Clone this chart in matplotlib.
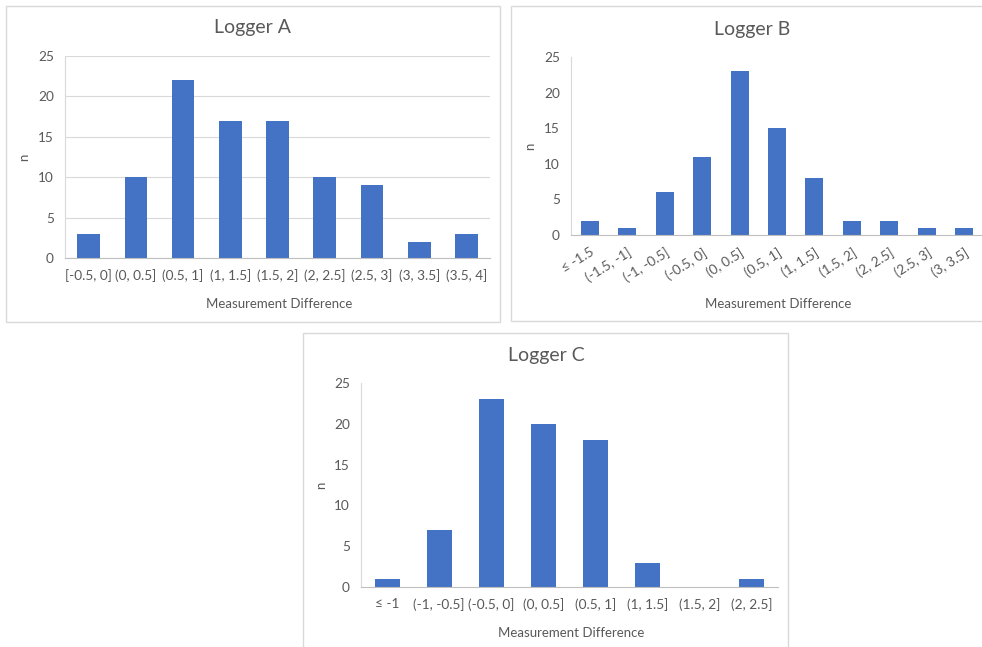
import matplotlib
matplotlib.use("Agg")
import matplotlib.pyplot as plt
from matplotlib.patches import Rectangle

plt.rcParams['font.family'] = ['Lato', 'DejaVu Sans']

# ---- data ----
cats_a = ["[-0.5, 0]", "(0, 0.5]", "(0.5, 1]", "(1, 1.5]", "(1.5, 2]",
          "(2, 2.5]", "(2.5, 3]", "(3, 3.5]", "(3.5, 4]"]
vals_a = [3, 10, 22, 17, 17, 10, 9, 2, 3]

cats_b = ["≤ -1.5", "(-1.5, -1]", "(-1, -0.5]", "(-0.5, 0]", "(0, 0.5]",
          "(0.5, 1]", "(1, 1.5]", "(1.5, 2]", "(2, 2.5]", "(2.5, 3]", "(3, 3.5]"]
vals_b = [2, 1, 6, 11, 23, 15, 8, 2, 2, 1, 1]

cats_c = ["≤ -1", "(-1, -0.5]", "(-0.5, 0]", "(0, 0.5]", "(0.5, 1]",
          "(1, 1.5]", "(1.5, 2]", "(2, 2.5]"]
vals_c = [1, 7, 23, 20, 18, 3, 0, 1]

titles = ["Logger A", "Logger B", "Logger C"]
yticks = [0, 5, 10, 15, 20, 25]

W, H = 982, 647
BAR = "#4472C4"
TXT = "#595959"
fig = plt.figure(figsize=(W / 100, H / 100), dpi=100)


def px_axes(l, t, r, b):
    return fig.add_axes([l / W, 1 - b / H, (r - l) / W, (b - t) / H])


def box(l, t, r, b):
    fig.patches.append(Rectangle((l / W, 1 - b / H), (r - l) / W, (b - t) / H,
                                 transform=fig.transFigure, fill=False,
                                 edgecolor="#D9D9D9", linewidth=1.0))


def panel(ax, cats, vals, grid, rot):
    x = list(range(len(cats)))
    ax.bar(x, vals, width=0.48, color=BAR, zorder=3)
    ax.set_xlim(-0.5, len(cats) - 0.5)
    ax.set_ylim(0, 25)
    ax.set_yticks(yticks)
    ax.set_xticks(x)
    if rot:
        ax.set_xticklabels(cats, rotation=32, ha='right', rotation_mode='anchor')
    else:
        ax.set_xticklabels(cats)
    ax.tick_params(axis='both', length=0, labelsize=9.8, colors=TXT)
    ax.tick_params(axis='y', pad=8)
    ax.tick_params(axis='x', pad=8 if not rot else 8)
    for s in ['top', 'right']:
        ax.spines[s].set_visible(False)
    ax.spines['bottom'].set_color("#BFBFBF")
    ax.spines['left'].set_color("#D9D9D9")
    ax.spines['bottom'].set_zorder(4)
    if grid:
        ax.yaxis.grid(True, color="#D9D9D9", linewidth=0.8, zorder=0)
    ax.set_axisbelow(True)


# boxes
box(6, 6, 500, 322)
box(511, 6, 990, 321)
box(303, 333, 788, 655)

axA = px_axes(65, 56, 490, 258)
panel(axA, cats_a, vals_a, True, False)
axB = px_axes(571, 57, 983, 235)
panel(axB, cats_b, vals_b, False, True)
axC = px_axes(361, 383, 778, 587)
panel(axC, cats_c, vals_c, False, False)

# titles
for (x, y), t in zip([(252, 28), (752, 29), (546, 355)], titles):
    fig.text(x / W, 1 - y / H, t, ha='center', va='center', fontsize=14, color=TXT)

# y labels
for x, y in [(24, 157), (530, 146), (321, 485)]:
    fig.text(x / W, 1 - y / H, "n", ha='center', va='center', rotation=90,
             fontsize=9.5, color=TXT)

# x labels
for x, y in [(279, 304), (778, 304), (571, 633)]:
    fig.text(x / W, 1 - y / H, "Measurement Difference", ha='center', va='center',
             fontsize=9.5, color=TXT)

fig.savefig("out.png", dpi=100)
